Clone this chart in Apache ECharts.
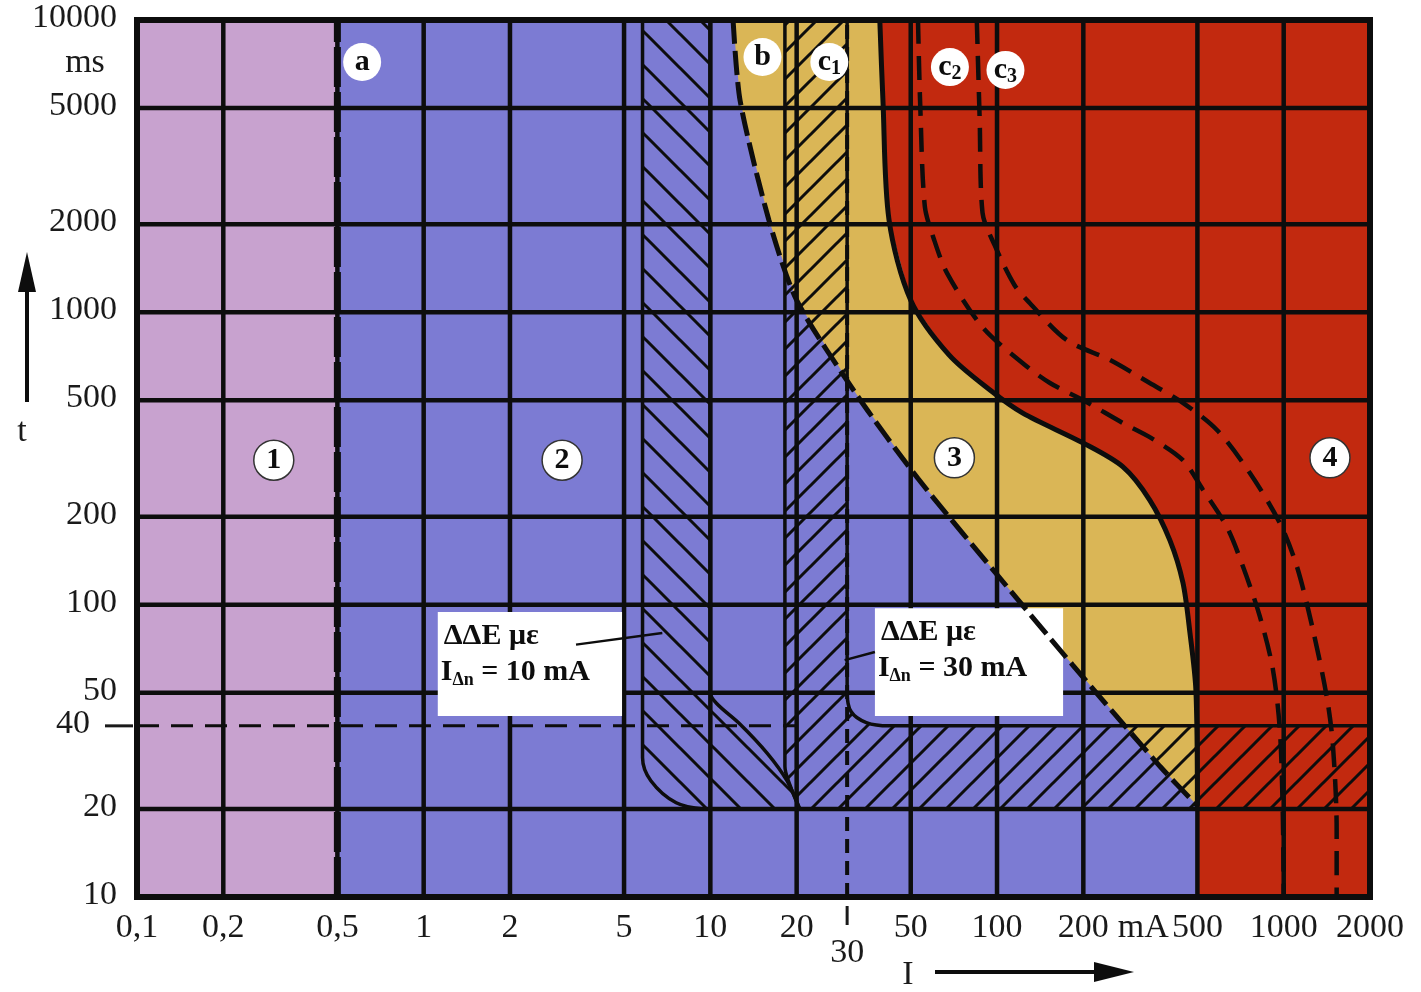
<!DOCTYPE html>
<html>
<head>
<meta charset="utf-8">
<title>Zones t(I)</title>
<script src="https://cdn.jsdelivr.net/npm/echarts@6.0.0/dist/echarts.min.js"></script>
<style>
html, body { margin: 0; padding: 0; background: #fff; }
#main { width: 1421px; height: 992px; }
</style>
</head>
<body>
<div id="main"></div>
<script>
// axes, ticks, grid
var xTicks = [0.1, 0.2, 0.5, 1, 2, 5, 10, 20, 50, 100, 200, 500, 1000, 2000];
var xTickText = ['0,1', '0,2', '0,5', '1', '2', '5', '10', '20', '50', '100', '200', '500', '1000', '2000'];
var yTicks = [10, 20, 50, 100, 200, 500, 1000, 2000, 5000, 10000];
var yTickText = ['10', '20', '50', '100', '200', '500', '1000', '2000', '5000', '10000'];
var xGrid = [0.2, 0.5, 1, 2, 5, 10, 20, 50, 100, 200, 500, 1000];
var yGrid = [20, 50, 100, 200, 500, 1000, 2000, 5000];
var xGrid30 = 30;
var t40 = 38.5;

// zone boundaries, I in mA, t in ms
var curveA = [[0.5, 10], [0.5, 10000]];
var curveB = [[12, 10000], [12.7, 5300], [16, 2070], [20, 1100], [32.5, 520], [53, 270], [107, 117], [184, 62], [370, 28], [500, 20.5]];
var curveC1 = [[39, 10000], [40, 5300], [42, 2070], [50, 1100], [68, 715], [95, 540], [123, 452], [200, 357], [275, 296], [341, 228], [401, 166], [445, 119], [471, 80], [494, 51], [500, 20.5]];
var curveC2 = [[53, 10000], [54, 5000], [56, 2300], [60, 1800], [67, 1360], [89, 890], [123, 670], [153, 573], [200, 500], [275, 418], [341, 374], [445, 312], [523, 247], [634, 184], [721, 135], [826, 91], [917, 60], [970, 37], [993, 19], [1000, 10]];
var curveC3 = [[85, 10000], [87, 4550], [89, 2190], [98, 1700], [115, 1240], [130, 1076], [175, 804], [248, 687], [341, 573], [445, 490], [585, 396], [762, 282], [970, 190], [1112, 135], [1265, 82], [1415, 48], [1485, 33], [1530, 17], [1530, 10]];

// RCD tripping bands
var rcd10Left = [[5.8, 10000], [5.8, 30], [6.2, 25], [7.6, 21], [9.5, 20]];
var rcd10Right = [[10, 10000], [10, 50], [10.5, 46], [12.7, 39], [15.8, 31], [18.5, 25], [20.5, 20]];
var rcd30Left = [[18.2, 10000], [18.2, 28], [19, 24], [20.5, 20]];
var rcd30Top = [[30, 10000], [30, 50], [31, 43], [35, 39.5], [42, 38.5], [2000, 38.5]];

var zoneLabels = [[0.30, 312, '1'], [3.04, 312, '2'], [71, 318, '3'], [1450, 318, '4']];
var curveLabels = [[0.61, 7180, 'a'], [15.2, 7470, 'b'], [26, 7180, 'c1'], [68.5, 6900, 'c2'], [107, 6750, 'c3']];
var noteBoxes = [[1.12, 94.4, 4.92, 41.6], [37.5, 97.2, 170, 41.6]];
var noteCurrents = ['10', '30'];
var leader10 = [[3.4, 73], [6.8, 80]];
var leader30 = [[29.4, 64.6], [37.5, 68.9]];

var serif = '"Liberation Serif", "DejaVu Serif", serif';
var ink = '#0d0d0d';

function hatch(s, dir) {
    var c = document.createElement('canvas');
    c.width = c.height = s;
    var g = c.getContext('2d');
    g.strokeStyle = ink;
    g.lineWidth = 3;
    g.beginPath();
    if (dir > 0) {
        g.moveTo(0, s); g.lineTo(s, 0);
        g.moveTo(-2, 2); g.lineTo(2, -2);
        g.moveTo(s - 2, s + 2); g.lineTo(s + 2, s - 2);
    } else {
        g.moveTo(0, 0); g.lineTo(s, s);
        g.moveTo(s - 2, -2); g.lineTo(s + 2, 2);
        g.moveTo(-2, s - 2); g.lineTo(2, s + 2);
    }
    g.stroke();
    return { image: c, repeat: 'repeat' };
}

function polygon(pts, fill, z) {
    return {
        type: 'custom', z: z, silent: true, data: [pts[0]],
        renderItem: function (params, api) {
            return {
                type: 'polygon',
                shape: { points: pts.map(function (p) { return api.coord(p); }) },
                style: { fill: fill }
            };
        }
    };
}

function line(pts, width, dash, z, smooth) {
    return {
        type: 'line', data: pts, z: z, symbol: 'none', silent: true, smooth: smooth || false,
        lineStyle: { color: ink, width: width, type: dash || 'solid', cap: 'butt' }
    };
}

function gridLines(vals, vertical, width, dash) {
    return {
        type: 'custom', z: 3, silent: true,
        data: vals.map(function (v) { return vertical ? [v, 10] : [0.1, v]; }),
        renderItem: function (params, api) {
            var a, b;
            if (vertical) {
                a = api.coord([api.value(0), 10]); b = api.coord([api.value(0), 10000]);
            } else {
                a = api.coord([0.1, api.value(1)]); b = api.coord([2000, api.value(1)]);
            }
            return {
                type: 'line', shape: { x1: a[0], y1: a[1], x2: b[0], y2: b[1] },
                style: { stroke: ink, lineWidth: width, lineDash: dash || null }
            };
        }
    };
}

var band10 = rcd10Left.concat(rcd10Right.slice().reverse());
var band30 = rcd30Left.concat([[2000, 20]], rcd30Top.slice().reverse());
var zone1 = [[0.1, 10], [0.5, 10], [0.5, 10000], [0.1, 10000]];
var zone2 = [[0.5, 10], [2000, 10], [2000, 10000], [0.5, 10000]];
var zone3 = curveB.concat(curveC1.slice().reverse());
var zone4 = curveC1.concat([[500, 10], [2000, 10], [2000, 10000]]);

var labelFont = '34px ' + serif;

var chart = echarts.init(document.getElementById('main'));
var option = {
    animation: false,
    backgroundColor: '#fff',
    grid: { left: 137, right: 51, top: 20, bottom: 95 },
    xAxis: {
        type: 'log', logBase: 10, min: 0.1, max: 2000,
        axisLine: { show: false }, axisTick: { show: false }, axisLabel: { show: false }, splitLine: { show: false }
    },
    yAxis: {
        type: 'log', logBase: 10, min: 10, max: 10000,
        axisLine: { show: false }, axisTick: { show: false }, axisLabel: { show: false }, splitLine: { show: false }
    },
    graphic: [
        { type: 'line', shape: { x1: 27, y1: 402, x2: 27, y2: 285 }, style: { stroke: ink, lineWidth: 4 } },
        { type: 'polygon', shape: { points: [[27, 252], [18, 292], [36, 292]] }, style: { fill: ink } },
        { type: 'text', x: 22, y: 432, style: { text: 't', font: labelFont, fill: '#1a1a1a', textAlign: 'center', textVerticalAlign: 'middle' } },
        { type: 'line', shape: { x1: 935, y1: 972, x2: 1100, y2: 972 }, style: { stroke: ink, lineWidth: 4 } },
        { type: 'polygon', shape: { points: [[1134, 972], [1094, 962], [1094, 982]] }, style: { fill: ink } },
        { type: 'text', x: 908, y: 975, style: { text: 'I', font: labelFont, fill: '#1a1a1a', textAlign: 'center', textVerticalAlign: 'middle' } }
    ],
    series: [
        polygon(zone1, '#c8a2cf', 1),
        polygon(zone2, '#7c7bd3', 1),
        polygon(zone3, '#dab656', 1),
        polygon(zone4, '#c2290f', 1),
        polygon(band10, hatch(34, -1), 2),
        polygon(band30, hatch(27, 1), 2),
        gridLines(xGrid, true, 4.5),
        gridLines(yGrid, false, 4.5),
        gridLines([xGrid30], true, 4, [14, 8]),
        line(rcd10Left, 3.5, null, 4, 0.35),
        line(rcd10Right, 3.5, null, 4, 0.35),
        line(rcd30Left, 3.5, null, 4, 0.35),
        line(rcd30Top, 3.5, null, 4, 0.35),
        line([[0.1, t40], [20, t40]], 3, [22, 12], 4),
        {
            type: 'custom', z: 6, silent: true,
            data: noteBoxes,
            renderItem: function (params, api) {
                var p1 = api.coord([api.value(0), api.value(1)]);
                var p2 = api.coord([api.value(2), api.value(3)]);
                var cur = noteCurrents[params.dataIndex];
                return {
                    type: 'group',
                    children: [
                        { type: 'rect', shape: { x: p1[0], y: p1[1], width: p2[0] - p1[0], height: p2[1] - p1[1] }, style: { fill: '#fff' } },
                        { type: 'text', x: p1[0] + 6, y: p1[1] + 24, style: { text: 'ΔΔE με', font: 'bold 30px ' + serif, fill: ink, textAlign: 'left', textVerticalAlign: 'middle' } },
                        {
                            type: 'text', x: p1[0] + 3, y: p1[1] + 60,
                            style: {
                                text: '{n|I}{s|Δn}{n| = ' + cur + ' mA}', textAlign: 'left', textVerticalAlign: 'middle',
                                rich: {
                                    n: { font: 'bold 30px ' + serif, fill: ink, lineHeight: 34 },
                                    s: { font: 'bold 18px ' + serif, fill: ink, lineHeight: 20, verticalAlign: 'bottom' }
                                }
                            }
                        }
                    ]
                };
            }
        },
        line(leader10, 2.5, null, 7),
        line(leader30, 2.5, null, 7),
        line(curveA, 7, [40, 5], 7),
        line(curveB, 5, [24, 7], 7, 0.25),
        line(curveC1, 5, null, 7, 0.3),
        line(curveC2, 4.5, [24, 12], 7, 0.3),
        line(curveC3, 4.5, [24, 12], 7, 0.3),
        {
            type: 'custom', z: 8, silent: true, data: [[0.1, 10]],
            renderItem: function (params, api) {
                var a = api.coord([0.1, 10000]), b = api.coord([2000, 10]);
                return { type: 'rect', shape: { x: a[0], y: a[1], width: b[0] - a[0], height: b[1] - a[1] }, style: { fill: 'none', stroke: ink, lineWidth: 6 } };
            }
        },
        {
            type: 'scatter', z: 9, silent: true, symbolSize: 40,
            data: zoneLabels.map(function (d) { return { value: [d[0], d[1]], name: d[2] }; }),
            itemStyle: { color: '#fff', borderColor: '#333', borderWidth: 1.5, opacity: 1 },
            label: { show: true, position: 'inside', formatter: '{b}', fontFamily: serif, fontWeight: 'bold', fontSize: 30, color: ink }
        },
        {
            type: 'scatter', z: 9, silent: true, symbolSize: 38,
            data: curveLabels.map(function (d) { return { value: [d[0], d[1]], name: d[2] }; }),
            itemStyle: { color: '#fff', opacity: 1 },
            label: {
                show: true, position: 'inside',
                formatter: function (p) {
                    return p.name.length > 1 ? '{m|' + p.name[0] + '}{s|' + p.name.slice(1) + '}' : '{m|' + p.name + '}';
                },
                rich: {
                    m: { fontFamily: serif, fontWeight: 'bold', fontSize: 30, color: ink },
                    s: { fontFamily: serif, fontWeight: 'bold', fontSize: 20, color: ink, verticalAlign: 'bottom', padding: [14, 0, 0, 0] }
                }
            }
        },
        {
            type: 'custom', z: 10, silent: true,
            data: xTicks.map(function (v) { return [v, 10]; }),
            renderItem: function (params, api) {
                var p = api.coord([api.value(0), 10]);
                var kids = [{ type: 'text', x: p[0], y: p[1] + 31, style: { text: xTickText[params.dataIndex], font: labelFont, fill: '#1a1a1a', textAlign: 'center', textVerticalAlign: 'middle' } }];
                if (xTickText[params.dataIndex] === '200') {
                    kids.push({ type: 'text', x: p[0] + 60, y: p[1] + 31, style: { text: 'mA', font: labelFont, fill: '#1a1a1a', textAlign: 'center', textVerticalAlign: 'middle' } });
                }
                return { type: 'group', children: kids };
            }
        },
        {
            type: 'custom', z: 10, silent: true, data: [[xGrid30, 10]],
            renderItem: function (params, api) {
                var p = api.coord([api.value(0), 10]);
                return {
                    type: 'group', children: [
                        { type: 'line', shape: { x1: p[0], y1: p[1] + 9, x2: p[0], y2: p[1] + 28 }, style: { stroke: '#1a1a1a', lineWidth: 3 } },
                        { type: 'text', x: p[0], y: p[1] + 56, style: { text: '30', font: labelFont, fill: '#1a1a1a', textAlign: 'center', textVerticalAlign: 'middle' } }
                    ]
                };
            }
        },
        {
            type: 'custom', z: 10, silent: true,
            data: yTicks.map(function (v) { return [0.1, v]; }),
            renderItem: function (params, api) {
                var p = api.coord([0.1, api.value(1)]);
                var kids = [{ type: 'text', x: p[0] - 20, y: p[1] - 2, style: { text: yTickText[params.dataIndex], font: labelFont, fill: '#1a1a1a', textAlign: 'right', textVerticalAlign: 'middle' } }];
                if (yTickText[params.dataIndex] === '10000') {
                    kids.push({ type: 'text', x: p[0] - 52, y: p[1] + 43, style: { text: 'ms', font: labelFont, fill: '#1a1a1a', textAlign: 'center', textVerticalAlign: 'middle' } });
                }
                return { type: 'group', children: kids };
            }
        },
        {
            type: 'custom', z: 10, silent: true, data: [[0.1, t40]],
            renderItem: function (params, api) {
                var p = api.coord([0.1, api.value(1)]);
                return {
                    type: 'group', children: [
                        { type: 'line', shape: { x1: p[0] - 32, y1: p[1], x2: p[0] - 4, y2: p[1] }, style: { stroke: '#1a1a1a', lineWidth: 3 } },
                        { type: 'text', x: p[0] - 47, y: p[1] - 2, style: { text: '40', font: labelFont, fill: '#1a1a1a', textAlign: 'right', textVerticalAlign: 'middle' } }
                    ]
                };
            }
        }
    ]
};
chart.setOption(option);
</script>
</body>
</html>
